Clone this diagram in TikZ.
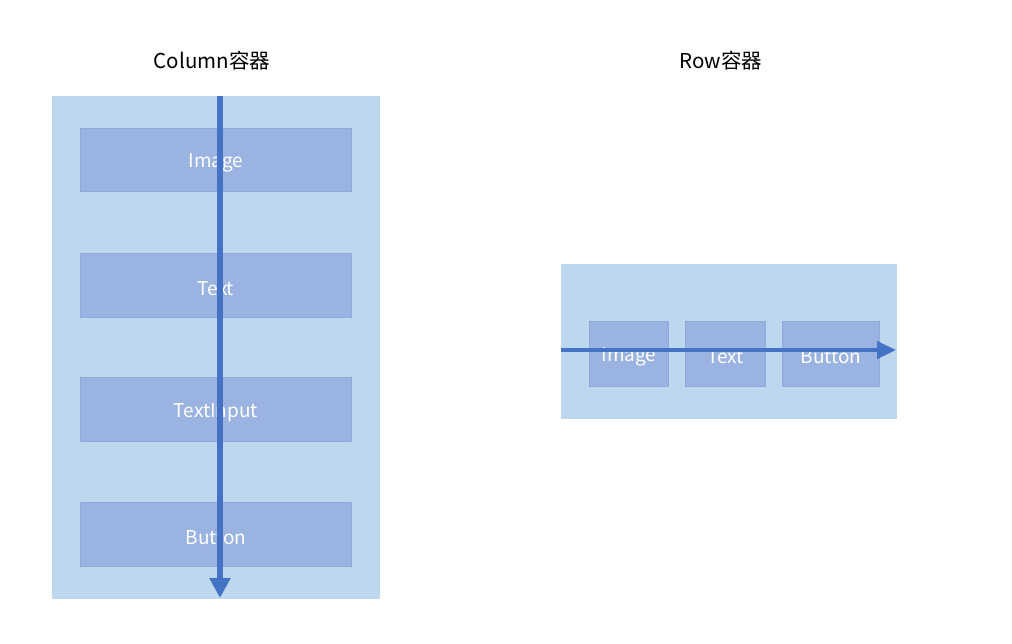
\documentclass[tikz,border=0pt]{standalone}
\usepackage{fontspec}
\setmainfont{Noto Sans CJK SC}
\usetikzlibrary{arrows.meta}
\definecolor{contfill}{HTML}{BDD7EE}
\definecolor{boxfill}{HTML}{9AB3E0}
\definecolor{boxline}{HTML}{8EAADC}
\definecolor{arrowcol}{HTML}{4472C4}
\begin{document}
\begin{tikzpicture}[x=1pt,y=-1pt,
  container/.style={fill=contfill,draw=none,inner sep=0pt,anchor=north west},
  itembox/.style={fill=boxfill,draw=boxline,line width=0.8pt,inner sep=0pt,anchor=north west,
    label={[text=white,font=\fontsize{19}{22}\selectfont,yshift=-3pt]center:#1}},
  title/.style={font=\fontsize{20.5}{24}\selectfont,text=black},
  flowarrow/.style={draw=arrowcol,line width=5.5pt,-{Triangle[length=20pt,width=20pt]}}]
\useasboundingbox (0,0) rectangle (1012,643);
% Column
\node[title] (ctitle) at (212,61) {Column容器};
\node[container,minimum width=328pt,minimum height=503pt] (col) at (52,96) {};
\node[itembox=Image,minimum width=271pt,minimum height=63pt] (cimg) at (80,128) {};
\node[itembox=Text,minimum width=271pt,minimum height=64pt] (ctxt) at (80,253) {};
\node[itembox=TextInput,minimum width=271pt,minimum height=64pt] (cinp) at (80,377) {};
\node[itembox=Button,minimum width=271pt,minimum height=64pt] (cbtn) at (80,502) {};
\coordinate (cstart) at (220,96);
\coordinate (cend) at (220,598);
\draw[flowarrow] (cstart) -- (cend);
% Row
\node[title] (rtitle) at (721,61) {Row容器};
\node[container,minimum width=336pt,minimum height=155pt] (row) at (561,264) {};
\node[itembox=Image,minimum width=79pt,minimum height=65pt] (rimg) at (589,321) {};
\node[itembox=Text,minimum width=80pt,minimum height=65pt] (rtxt) at (685,321) {};
\node[itembox=Button,minimum width=97pt,minimum height=65pt] (rbtn) at (782,321) {};
\coordinate (rstart) at (561,350);
\coordinate (rend) at (896,350);
\draw[flowarrow,line width=4.5pt,-{Triangle[length=19pt,width=17pt]}] (rstart) -- (rend);
\end{tikzpicture}
\end{document}
